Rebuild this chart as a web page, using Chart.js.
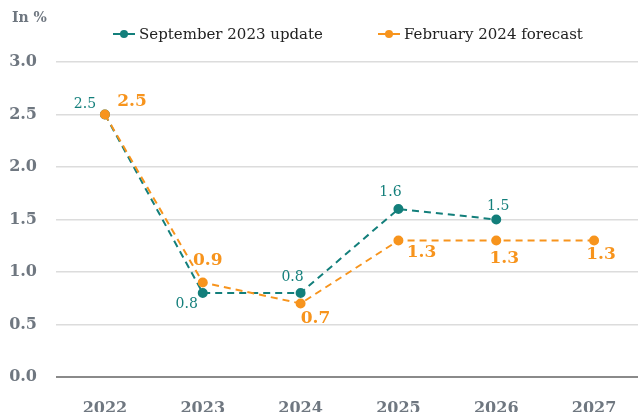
<!DOCTYPE html>
<html lang="en">
<head>
<meta charset="UTF-8">
<title>Inflation forecast</title>
<script src="https://cdn.jsdelivr.net/npm/chart.js"></script>
<style>
  html, body { margin: 0; padding: 0; background: #fff; overflow: hidden; }
  .wrap { width: 638px; height: 412px; overflow: hidden; }
  canvas { display: block; }
</style>
</head>
<body>
<div class="wrap"><canvas id="chart" width="643" height="412"></canvas></div>
<script>
const years = ['2022', '2023', '2024', '2025', '2026', '2027'];
const sept2023 = [2.5, 0.8, 0.8, 1.6, 1.5, null];
const feb2024 = [2.5, 0.9, 0.7, 1.3, 1.3, 1.3];
const seriesNames = ['September 2023 update', 'February 2024 forecast'];

const TEAL = '#137f7b';
const ORANGE = '#f7941d';
const GREY = '#6f7780';
const FONT = "'DejaVu Serif', serif";

// where each value label sits relative to its point
const tealOffsets = [[-20, -10], [-16, 11], [-8, -16], [-8, -17], [2, -13], [0, 0]];
const orangeOffsets = [[27, -13], [5, -22], [15, 15], [23, 12], [8, 18], [7, 14]];

const overlay = {
  id: 'overlay',
  afterDatasetsDraw(chart) {
    const ctx = chart.ctx;
    ctx.save();
    ctx.textAlign = 'center';
    ctx.textBaseline = 'middle';

    // value labels
    const styles = [
      { color: TEAL, font: '14px ' + FONT, off: tealOffsets },
      { color: ORANGE, font: 'bold 17px ' + FONT, off: orangeOffsets }
    ];
    chart.data.datasets.forEach((ds, i) => {
      const meta = chart.getDatasetMeta(i);
      ctx.fillStyle = styles[i].color;
      ctx.font = styles[i].font;
      meta.data.forEach((pt, j) => {
        const v = ds.data[j];
        if (v == null) return;
        const o = styles[i].off[j];
        ctx.fillText(v.toFixed(1), pt.x + o[0], pt.y + o[1]);
      });
    });

    // unit label
    ctx.textAlign = 'left';
    ctx.fillStyle = GREY;
    ctx.font = 'bold 14px ' + FONT;
    ctx.fillText('In %', 12, 18);

    // legend
    const items = [
      { x: 113, color: TEAL, text: seriesNames[0] },
      { x: 378, color: ORANGE, text: seriesNames[1] }
    ];
    items.forEach(it => {
      ctx.strokeStyle = it.color;
      ctx.lineWidth = 2;
      ctx.beginPath();
      ctx.moveTo(it.x, 34);
      ctx.lineTo(it.x + 22, 34);
      ctx.stroke();
      ctx.fillStyle = it.color;
      ctx.beginPath();
      ctx.arc(it.x + 11, 34, 4, 0, Math.PI * 2);
      ctx.fill();
      ctx.fillStyle = '#222';
      ctx.font = '15px ' + FONT;
      ctx.fillText(it.text, it.x + 26, 35);
    });
    ctx.restore();
  }
};

new Chart(document.getElementById('chart'), {
  type: 'line',
  data: {
    labels: years,
    datasets: [
      {
        label: seriesNames[0],
        data: sept2023,
        order: 1,
        borderColor: TEAL,
        backgroundColor: TEAL,
        borderWidth: 2,
        borderDash: [7, 5],
        pointRadius: 4,
        pointHoverRadius: 4,
        tension: 0
      },
      {
        label: seriesNames[1],
        data: feb2024,
        order: 0,
        borderColor: ORANGE,
        backgroundColor: ORANGE,
        borderWidth: 2,
        borderDash: [7, 5],
        pointRadius: 4,
        pointHoverRadius: 4,
        tension: 0
      }
    ]
  },
  options: {
    responsive: false,
    animation: false,
    layout: { autoPadding: false, padding: { top: 62, right: 0, left: 0, bottom: 0 } },
    plugins: {
      legend: { display: false },
      tooltip: { enabled: false }
    },
    scales: {
      x: {
        offset: true,
        grid: { display: false },
        border: { display: false },
        ticks: { color: GREY, font: { family: FONT, size: 16, weight: 'bold' }, padding: 14 },
        afterFit(axis) {
          axis.height = 35;
          axis.paddingLeft = 0;
          axis.paddingRight = 0;
        }
      },
      y: {
        min: 0,
        max: 3,
        ticks: {
          stepSize: 0.5,
          color: GREY,
          padding: 19,
          font: { family: FONT, size: 16, weight: 'bold' },
          callback: v => v.toFixed(1)
        },
        grid: {
          drawTicks: false,
          color: c => c.tick.value === 0 ? '#8a8a8a' : '#dcdcdc',
          lineWidth: c => c.tick.value === 0 ? 2 : 1.5
        },
        border: { display: false },
        afterFit(axis) {
          axis.width = 56;
          axis.paddingTop = 0;
          axis.paddingBottom = 0;
        }
      }
    }
  },
  plugins: [overlay]
});
</script>
</body>
</html>
